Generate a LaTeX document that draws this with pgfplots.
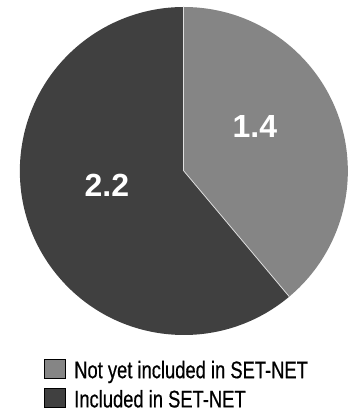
\documentclass[border=0pt]{standalone}
\usepackage{pgfplots}
\usepackage{pgfplotstable}
\pgfplotsset{compat=1.18}
\usepackage{fontspec}
\setmainfont{Liberation Sans}
\newfontfamily\cond[FakeStretch=0.765,FakeBold=0.5]{Liberation Sans}
\definecolor{lightsl}{HTML}{858585}
\definecolor{darksl}{HTML}{404040}
\pgfplotstableread{
label value
Not 1.4
Inc 2.2
}\pietable
\begin{document}
\begin{tikzpicture}
\pgfplotstablegetelem{0}{value}\of\pietable \let\va\pgfplotsretval
\pgfplotstablegetelem{1}{value}\of\pietable \let\vb\pgfplotsretval
\pgfmathsetmacro{\tot}{\va+\vb}
\pgfmathsetmacro{\aend}{90-360*\va/\tot}
\pgfmathsetmacro{\bend}{\aend-360*\vb/\tot}
\begin{axis}[
  x=1pt, y=1pt,
  xmin=0, xmax=349, ymin=0, ymax=415,
  hide axis, clip=false,
  legend image code/.code={\fill[#1] (0pt,0pt) rectangle (21pt,19pt);},
  legend style={at={(axis cs:42,56)}, anchor=north west, draw=none, fill=none,
    inner sep=0pt, outer sep=0pt, row sep=8.5pt,
    font=\cond\fontsize{24}{24}\selectfont,
    nodes={inner sep=0pt, outer sep=0pt},
    cells={anchor=base west},
    /tikz/every odd column/.append style={column sep=9pt}},
]
\addlegendimage{fill=lightsl}
\addlegendentry{Not yet included in SET-NET}
\addlegendimage{fill=darksl}
\addlegendentry{Included in SET-NET}
\fill[lightsl] (axis cs:182,244) -- ++(90:164pt) arc[start angle=90, end angle=\aend, radius=164pt] -- cycle;
\fill[darksl] (axis cs:182,244) -- ++(\aend:164pt) arc[start angle=\aend, end angle=\bend, radius=164pt] -- cycle;
\draw[white!75!gray, line width=0.8pt] (axis cs:182,244) -- ++(90:164pt);
\draw[white!75!gray, line width=0.8pt] (axis cs:182,244) -- ++(\aend:164pt);
\node[white, font=\bfseries\fontsize{32}{32}\selectfont] at (axis cs:253,288.5) {\va};
\node[white, font=\bfseries\fontsize{32}{32}\selectfont] at (axis cs:105,230) {\vb};
\end{axis}
\path (current axis.south west) rectangle (current axis.north east);
\end{tikzpicture}
\end{document}
